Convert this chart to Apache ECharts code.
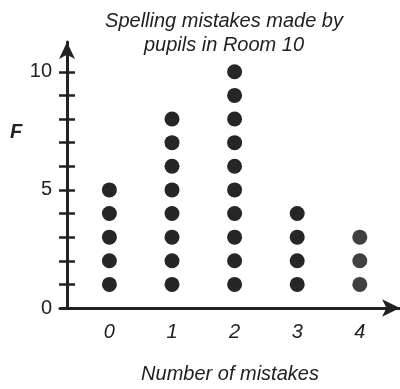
<!DOCTYPE html>
<html>
<head>
<meta charset="utf-8">
<script src="https://cdn.jsdelivr.net/npm/echarts@6/dist/echarts.min.js"></script>
<style>
  html, body { margin: 0; padding: 0; background: #fff; }
  #chart { width: 400px; height: 389px; }
</style>
</head>
<body>
<div id="chart"></div>
<script>
// Dot plot: number of spelling mistakes per pupil
const titleLines = ['Spelling mistakes made by', 'pupils in Room 10'];
const mistakes = [0, 1, 2, 3, 4];
const frequency = [5, 8, 10, 4, 3];
const yLabelValues = [0, 5, 10];
const yTickValues = [1, 2, 3, 4, 5, 6, 7, 8, 9, 10];
const xAxisTitle = 'Number of mistakes';
const yAxisTitle = 'F';

const INK = '#222';
const FONT = '"Liberation Sans", Arial, sans-serif';
const columnInk = ['#262626', '#262626', '#262626', '#262626', '#404040'];

// one dot per pupil, stacked up from 1
const dots = [];
mistakes.forEach((m, i) => {
  for (let j = 1; j <= frequency[i]; j++) {
    dots.push({ value: [m, j], itemStyle: { color: columnInk[i] } });
  }
});

const chart = echarts.init(document.getElementById('chart'));
const arrow = ['none', 'arrow'];
const yBase = {
  type: 'value', min: 0, max: 11.26, offset: -7,
  splitLine: { show: false }
};
chart.setOption({
  animation: false,
  grid: { left: 60, right: 0, top: 42, bottom: 75 },
  xAxis: {
    type: 'value', min: -0.789, max: 4.642,
    name: xAxisTitle, nameLocation: 'middle', nameGap: 56,
    nameTextStyle: { fontFamily: FONT, fontSize: 20, fontStyle: 'italic', color: INK },
    axisLine: { onZero: false, symbol: arrow, symbolSize: [13, 18],
      lineStyle: { color: INK, width: 3 } },
    axisTick: { show: false },
    splitLine: { show: false },
    axisLabel: { customValues: mistakes, margin: 14, fontFamily: FONT, fontSize: 20,
      fontStyle: 'italic', color: INK }
  },
  yAxis: [
    Object.assign({}, yBase, {
      axisLine: { show: true, onZero: false, symbol: arrow, symbolSize: [12, 17],
        lineStyle: { color: INK, width: 3 } },
      axisTick: { show: true, customValues: yTickValues, length: 8,
        lineStyle: { color: INK, width: 2.5 } },
      axisLabel: { customValues: yLabelValues, margin: 15, fontFamily: FONT,
        fontSize: 20, color: INK }
    }),
    Object.assign({}, yBase, {
      position: 'left',
      axisLine: { show: false, onZero: false },
      axisTick: { show: true, inside: true, customValues: yTickValues, length: 8,
        lineStyle: { color: INK, width: 2.5 } },
      axisLabel: { show: false }
    })
  ],
  graphic: [
    { type: 'text', x: 224, y: 9,
      style: { text: titleLines.join('\n'), fontFamily: FONT, fontSize: 20,
        fontStyle: 'italic', lineHeight: 24, fill: INK, align: 'center', verticalAlign: 'top' } },
    { type: 'text', x: 16, y: 132,
      style: { text: yAxisTitle, fontFamily: FONT, fontSize: 20, fontStyle: 'italic',
        fontWeight: 'bold', fill: INK, align: 'center', verticalAlign: 'middle' } }
  ],
  series: [{
    type: 'scatter',
    data: dots,
    symbol: 'circle',
    symbolSize: 15,
    itemStyle: { opacity: 1 }
  }]
});
</script>
</body>
</html>
